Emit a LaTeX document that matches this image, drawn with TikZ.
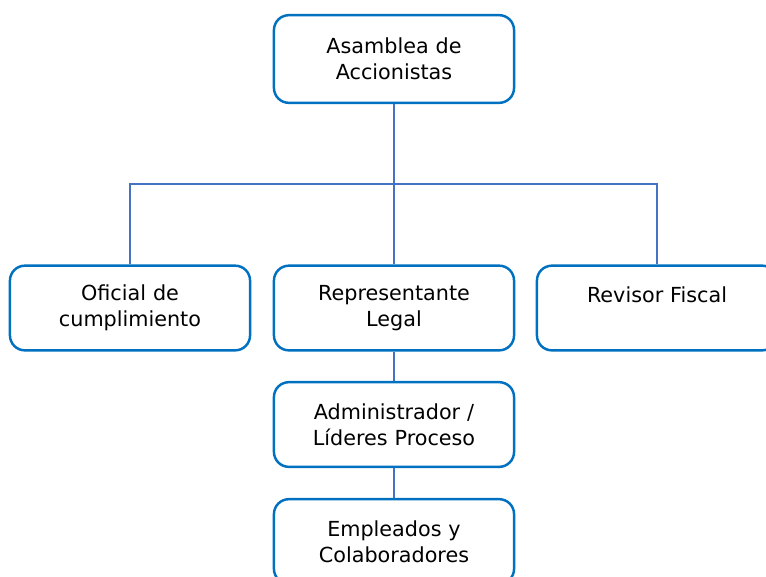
\documentclass[tikz,border=0pt]{standalone}
\usepackage{fontspec}
\setmainfont{DejaVu Sans}
\usepackage{tikz}
\definecolor{boxblue}{HTML}{0070C0}
\definecolor{lineblue}{HTML}{4472C4}
\tikzstyle{cargo} = [draw=boxblue,line width=1.4pt,rounded corners=8.5pt,fill=white,
  minimum width=136pt,text width=130pt,align=center,font=\fontsize{11.8}{14.7}\selectfont]
\tikzstyle{linea} = [draw=lineblue,line width=0.6pt]

\begin{document}
\begin{tikzpicture}[x=0.02cm,y=-0.02cm]
  \useasboundingbox (0,0) rectangle (766,576);
  \clip (0,0) rectangle (766,576);
  \node[cargo,minimum height=49.9pt] (asamblea) at (394,59) {Asamblea de\\Accionistas};
  \node[cargo,minimum height=48.2pt] (oficial) at (130,308) {Oficial de\\cumplimiento};
  \node[cargo,minimum height=48.2pt] (legal) at (394,308) {Representante\\Legal};
  \node[cargo,minimum height=48.2pt] (revisor) at (657,308) {\raisebox{-3.5pt}{Revisor Fiscal}\\\strut};
  \node[cargo,minimum height=48.2pt] (admin) at (394,424.5) {Administrador /\\Líderes Proceso};
  \node[cargo,minimum height=48.2pt] (empleados) at (394,541.5) {Empleados y\\Colaboradores};
  \coordinate (bus) at (394,184);
 \draw [linea] (asamblea) -- (bus);
 \draw [linea] (oficial.north) |- (bus) -| (revisor.north);
 \draw [linea] (bus) -- (legal);
 \draw [linea] (legal) -- (admin);
 \draw [linea] (admin) -- (empleados);
\end{tikzpicture}
\end{document}
